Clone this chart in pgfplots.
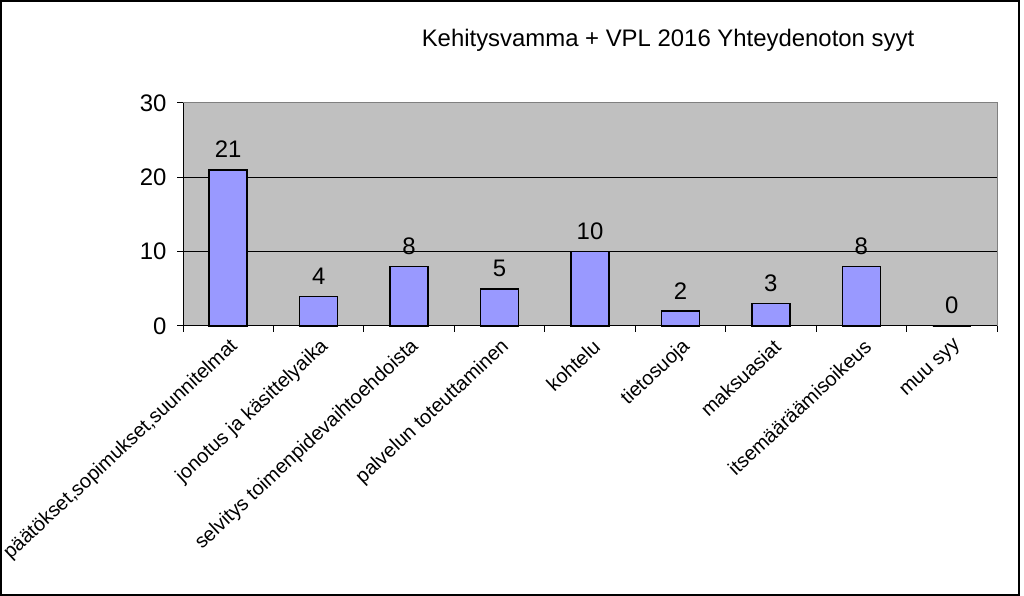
\documentclass[border=0pt]{standalone}
\usepackage{fontspec}
\setmainfont{Liberation Sans}
\usepackage{pgfplots}
\pgfplotsset{compat=1.18}
\definecolor{plotbg}{HTML}{C0C0C0}
\definecolor{barfill}{HTML}{9999FF}
\begin{document}
\begin{tikzpicture}[x=1bp,y=1bp]
\useasboundingbox (0,0) rectangle (1024,596);
\draw[line width=2bp] (1,1) rectangle (1019,595);
\node[font=\fontsize{24}{28}\selectfont, anchor=center] at (668,556) {Kehitysvamma + VPL 2016 Yhteydenoton syyt};
\begin{axis}[
  at={(183bp,270bp)}, anchor=south west,
  scale only axis, width=814bp, height=223bp,
  xmin=-0.5, xmax=8.5, ymin=0, ymax=30,
  axis background/.style={fill=plotbg, draw=gray, line width=1bp},
  axis x line*=bottom, axis y line*=left,
  axis line style={black, line width=1bp, -},
  xtick={0,...,8},
  xticklabels={{päätökset,sopimukset,suunnitelmat}, {jonotus ja käsittelyaika}, {selvitys toimenpidevaihtoehdoista}, {palvelun toteuttaminen}, kohtelu, tietosuoja, maksuasiat, itsemääräämisoikeus, {muu syy}},
  major x tick style={draw=none},
  minor xtick={-0.5,0.5,...,8.5},
  minor tick length=6bp,
  minor x tick style={black, line width=1bp},
  ytick={0,10,20,30},
  major tick length=6bp,
  tick align=outside,
  y tick style={black, line width=1bp},
  extra y ticks={10,20},
  extra y tick labels={},
  extra y tick style={grid=major, major grid style={black, line width=1bp}, major tick length=0pt},
  /pgf/number format/assume math mode=true,
  yticklabel style={font=\fontsize{24}{28}\selectfont, xshift=-7bp},
  xticklabel style={font=\fontsize{20}{24}\selectfont, rotate=43, anchor=east, inner sep=2bp, yshift=-13bp, xshift=-1bp},
  clip=false,
]
\addplot[ybar, bar width=38bp, fill=barfill, draw=black, line width=1.5bp,
  nodes near coords, nodes near coords style={font=\fontsize{24}{28}\selectfont, black, yshift=8bp}]
  coordinates {(0,21) (1,4) (2,8) (3,5) (4,10) (5,2) (6,3) (7,8) (8,0)};
\end{axis}
\end{tikzpicture}
\end{document}
